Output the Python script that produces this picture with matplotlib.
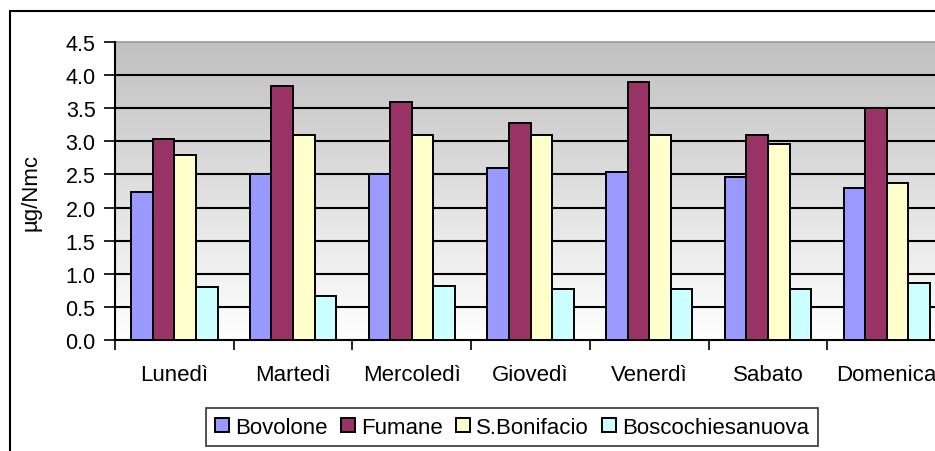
import numpy as np
import matplotlib.pyplot as plt
from matplotlib.patches import Rectangle

plt.rcParams['font.family'] = ['Liberation Sans', 'DejaVu Sans']

giorni = ["Lunedì", "Martedì", "Mercoledì", "Giovedì", "Venerdì", "Sabato", "Domenica"]
stazioni = ["Bovolone", "Fumane", "S.Bonifacio", "Boscochiesanuova"]
bovolone = [2.23, 2.51, 2.51, 2.60, 2.53, 2.46, 2.30]
fumane = [3.04, 3.83, 3.60, 3.27, 3.89, 3.10, 3.51]
bonifacio = [2.80, 3.09, 3.09, 3.09, 3.10, 2.96, 2.37]
bosco = [0.80, 0.67, 0.82, 0.77, 0.77, 0.77, 0.86]
colori = ["#9999FF", "#993366", "#FFFFCC", "#CCFFFF"]

serie = [bovolone, fumane, bonifacio, bosco]

fig = plt.figure(figsize=(9.35, 4.52), dpi=100)
ax = fig.add_axes([0.1230, 0.2456, 0.8888, 0.6593])

# sfondo a gradiente: bianco in basso, grigio in alto
grad = np.linspace(255, 192, 256).reshape(-1, 1) / 255.0
grad = np.repeat(grad, 3, axis=1).reshape(-1, 1, 3)
ax.imshow(grad, extent=[0, 7, 0, 4.5], aspect='auto', zorder=0, origin='lower')

x = np.arange(len(giorni)) + 0.5
w = 1 / 5.5
for i, (vals, nome, col) in enumerate(zip(serie, stazioni, colori)):
    ax.bar(x + (i - 1.5) * w, vals, width=w, color=col, edgecolor='black',
           linewidth=1.4, label=nome, zorder=3)

ax.set_xlim(0, 7)
ax.set_ylim(0, 4.5)
ax.set_yticks(np.arange(0, 4.51, 0.5))
ax.set_yticklabels([f"{v:.1f}" for v in np.arange(0, 4.51, 0.5)], fontsize=15.5)
for yv in np.arange(0.5, 4.01, 0.5):
    ax.axhline(yv, color='black', linewidth=1.5, zorder=1)

ax.set_xticks(np.arange(0, 8))
ax.set_xticklabels([])
ax.set_xticks(x, minor=True)
ax.set_xticklabels(giorni, minor=True, fontsize=16)
ax.tick_params(axis='x', which='minor', length=0, pad=17)
ax.tick_params(axis='x', which='major', length=7, width=1.2, direction='out')
ax.tick_params(axis='y', length=8, width=1.2, direction='out', pad=6)

for s in ['top', 'right']:
    ax.spines[s].set_visible(False)
ax.spines['left'].set_linewidth(1.5)
ax.spines['bottom'].set_linewidth(1.5)
ax.axhline(4.5, color='#999999', linewidth=1.2, zorder=1, clip_on=False)

ax.set_ylabel("µg/Nmc", fontsize=16)
ax.yaxis.set_label_coords(-0.088, 0.5)

leg = fig.legend(loc='center', bbox_to_anchor=(0.548, 0.053), ncol=4, fontsize=16,
                 frameon=True, fancybox=False, handlelength=0.6, handleheight=0.6,
                 handletextpad=0.3, columnspacing=0.6, borderpad=0.4)
leg.get_frame().set_edgecolor('black')
leg.get_frame().set_linewidth(1.2)

# cornice esterna del grafico
fig.patches.append(Rectangle((10 / 935, -0.1), 1.2, 1 - 12 / 452 + 0.1,
                             transform=fig.transFigure, fill=False,
                             edgecolor='black', linewidth=1.5))

fig.savefig("out.png", dpi=100)
